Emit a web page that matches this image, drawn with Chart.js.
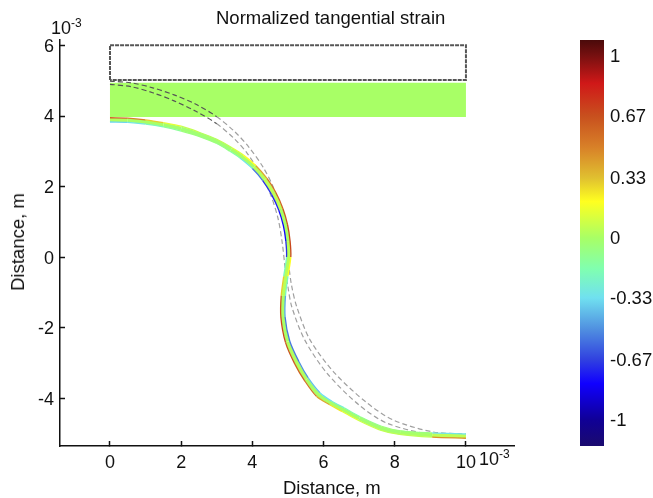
<!DOCTYPE html>
<html>
  <head>
    <script src="https://cdn.jsdelivr.net/npm/chart.js"></script>
    <style>
      body { margin: 0; background: #fff; }
      #wrap { position: relative; width: 653px; height: 498px; overflow: hidden; font-family: "Liberation Sans", sans-serif; color: #111; }
      canvas { position: absolute; top: 0; }
      .txt { position: absolute; white-space: nowrap; font-size: 18.5px; line-height: 18px; }
      .txt sup { font-size: 12px; line-height: 0; }
    </style>
  </head>
  <body>
    <div id="wrap">
      <canvas id="main-chart" width="653" height="498" style="left:0"></canvas>
      <canvas id="bar-chart" width="83" height="498" style="left:570px"></canvas>
      <div class="txt" style="left:216px;top:9px">Normalized tangential strain</div>
      <div class="txt" style="left:283px;top:479px">Distance, m</div>
      <div class="txt" style="left:18px;top:242px;transform:translate(-50%,-50%) rotate(-90deg)">Distance, m</div>
      <div class="txt" style="left:51px;top:19px;font-size:18px">10<sup>-3</sup></div>
      <div class="txt" style="left:479px;top:450px;font-size:18px">10<sup>-3</sup></div>
    </div>
    <script>
      var xTicks = [0, 2, 4, 6, 8, 10];
      var yTicks = [-4, -2, 0, 2, 4, 6];
      var barTicks = [-1, -0.67, -0.33, 0, 0.33, 0.67, 1];

      // undeformed beam outline and the filled block
      var boxX = [0, 0, 10, 10, 0];
      var boxY = [5.02, 6.01, 6.01, 5.02, 5.02];
      var bandX = [0, 10, 10, 0];
      var bandY = [4.94, 4.94, 3.97, 3.97];

      // grey dashed curves
      var upperX = [0, 0.6, 1.2, 1.8, 2.4, 3, 3.5, 3.9, 4.3, 4.6, 4.82, 4.95, 5.02, 5.1, 5.25, 5.62, 6.32, 7.2, 7.95, 9.07, 10];
      var upperY = [4.99, 4.94, 4.8, 4.6, 4.34, 3.98, 3.56, 3.12, 2.55, 1.95, 1.25, 0.5, -0.2, -0.8, -1.42, -2.35, -3.3, -4.12, -4.62, -4.96, -5.02];
      var lowerX = [0, 0.6, 1.2, 1.8, 2.4, 3, 3.5, 3.85, 4.2, 4.5, 4.72, 4.84, 4.92, 5, 5.11, 5.47, 6.1, 7, 7.8, 9.07, 10];
      var lowerY = [4.9, 4.83, 4.66, 4.43, 4.14, 3.78, 3.35, 2.95, 2.4, 1.8, 1.1, 0.4, -0.3, -0.85, -1.42, -2.35, -3.3, -4.2, -4.72, -5.05, -5.12];

      // deformed strip: centre line and its two edges, with strain at each point
      var midX = [0, 0.5, 1, 1.5, 2, 2.5, 3, 3.4, 3.7, 4.05, 4.35, 4.6, 4.8, 4.93, 5, 5.02, 4.94, 4.87, 4.86, 4.99, 5.25, 5.52, 5.85, 6.2, 6.55, 7, 7.6, 8.15, 9.05, 10];
      var midY = [3.89, 3.88, 3.83, 3.75, 3.64, 3.48, 3.28, 3.05, 2.85, 2.55, 2.2, 1.8, 1.35, 0.9, 0.45, 0, -0.55, -1.1, -1.7, -2.4, -3, -3.47, -3.9, -4.14, -4.33, -4.58, -4.85, -4.98, -5.05, -5.08];
      var midStrain = [0.02, 0, 0, -0.02, -0.03, -0.03, -0.03, 0, 0, 0.03, 0.05, 0.05, 0, 0, 0.04, 0.04, 0.04, 0, 0, 0.02, 0.02, 0, 0, 0, 0, -0.02, -0.02, 0, 0.05, 0.08];
      var edgeAX = [0, 0.5, 1, 1.5, 2, 2.5, 3, 3.43, 3.75, 4.1, 4.41, 4.66, 4.86, 4.99, 5.06, 5.08, 5, 4.93, 4.92, 5.05, 5.31, 5.57, 5.9, 6.23, 6.58, 7.03, 7.63, 8.17, 9.05, 10];
      var edgeAY = [3.95, 3.94, 3.89, 3.81, 3.71, 3.54, 3.34, 3.1, 2.89, 2.59, 2.23, 1.83, 1.37, 0.91, 0.45, 0, -0.55, -1.1, -1.7, -2.38, -2.97, -3.43, -3.85, -4.09, -4.28, -4.53, -4.8, -4.93, -4.99, -5.02];
      var edgeAStrain = [0.6, 0.5, 0.3, 0.14, 0.06, 0.03, 0.05, 0.12, 0.2, 0.4, 0.55, 0.6, 0.65, 0.7, 0.7, 0.2, -0.2, -0.45, -0.55, -0.55, -0.5, -0.4, -0.33, -0.25, -0.15, -0.08, -0.04, -0.05, -0.3, -0.5];
      var edgeBX = [0, 0.5, 1, 1.5, 2, 2.5, 3, 3.37, 3.65, 4, 4.29, 4.54, 4.74, 4.87, 4.94, 4.96, 4.88, 4.81, 4.8, 4.93, 5.19, 5.47, 5.8, 6.17, 6.52, 6.97, 7.57, 8.13, 9.05, 10];
      var edgeBY = [3.83, 3.82, 3.77, 3.69, 3.57, 3.42, 3.22, 3, 2.81, 2.51, 2.17, 1.77, 1.33, 0.89, 0.45, 0, -0.55, -1.1, -1.7, -2.42, -3.03, -3.51, -3.95, -4.19, -4.38, -4.63, -4.9, -5.03, -5.11, -5.14];
      var edgeBStrain = [-0.35, -0.3, -0.2, -0.12, -0.05, -0.05, -0.08, -0.15, -0.3, -0.55, -0.7, -0.75, -0.8, -0.8, -0.7, -0.2, 0.3, 0.65, 0.7, 0.65, 0.6, 0.55, 0.4, 0.25, 0.14, 0.08, 0.05, 0.05, 0.45, 0.75];

      // colour bar stops
      var barMin = -1.143;
      var barMax = 1.088;
      var stopValues = [-1.143, -1, -0.8, -0.67, -0.5, -0.33, -0.17, 0, 0.2, 0.33, 0.5, 0.67, 0.85, 1, 1.088];
      var stopColors = [
        [26, 10, 110], [16, 0, 150], [16, 0, 255], [48, 64, 224], [80, 144, 224], [112, 224, 240], [128, 255, 176],
        [168, 255, 102], [255, 255, 32], [224, 192, 48], [216, 128, 40], [200, 80, 30], [208, 24, 24], [120, 16, 16], [74, 10, 10]
      ];

      function toPoints(xs, ys) {
        return xs.map(function(x, i) { return { x: x, y: ys[i] }; });
      }

      function colorFor(v) {
        var i = 1;
        while (i < stopValues.length - 1 && v > stopValues[i]) i++;
        var t = (v - stopValues[i - 1]) / (stopValues[i] - stopValues[i - 1]);
        t = Math.max(0, Math.min(1, t));
        var a = stopColors[i - 1], b = stopColors[i];
        return 'rgb(' + [0, 1, 2].map(function(k) { return Math.round(a[k] + (b[k] - a[k]) * t); }).join(',') + ')';
      }

      function stripLine(xs, ys, strain, width) {
        return {
          data: toPoints(xs, ys),
          showLine: true,
          pointRadius: 0,
          tension: 0.3,
          borderWidth: width,
          borderColor: colorFor(0),
          segment: {
            borderColor: function(ctx) { return colorFor(strain[ctx.p0DataIndex]); }
          }
        };
      }

      function greyLine(xs, ys) {
        return {
          data: toPoints(xs, ys),
          showLine: true,
          pointRadius: 0,
          tension: 0.3,
          borderWidth: 1.2,
          borderDash: [5, 3],
          borderColor: '#a0a0a0',
          segment: {
            borderColor: function(ctx) { return ctx.p0.parsed.x < 2.6 ? '#555' : '#a0a0a0'; }
          }
        };
      }

      function tickScale(min, max, ticks, fit, fontSize, color) {
        return {
          type: 'linear',
          min: min,
          max: max,
          afterBuildTicks: function(scale) {
            scale.ticks = ticks.map(function(v) { return { value: v }; });
          },
          afterFit: fit,
          border: { color: color, width: 1.5 },
          grid: { drawOnChartArea: false, tickLength: -5, color: color, tickWidth: 1.5 },
          ticks: {
            color: '#111',
            font: { family: '"Liberation Sans", sans-serif', size: fontSize },
            padding: 11,
            maxRotation: 0,
            autoSkip: false,
            callback: function(v) { return String(v); }
          }
        };
      }

      var mainX = tickScale(-1.404, 11.35, xTicks, function(s) { s.height = 52; }, 18, '#111');
      var mainY = tickScale(-5.36, 6.156, yTicks, function(s) { s.width = 60; }, 18, '#111');
      mainY.ticks.labelOffset = 1.5;

      new Chart(document.getElementById('main-chart').getContext('2d'), {
        type: 'scatter',
        data: {
          datasets: [
            stripLine(edgeAX, edgeAY, edgeAStrain, 1.3),
            stripLine(edgeBX, edgeBY, edgeBStrain, 1.3),
            stripLine(midX, midY, midStrain, 4),
            greyLine(upperX, upperY),
            greyLine(lowerX, lowerY),
            {
              data: toPoints(boxX, boxY),
              showLine: true,
              pointRadius: 0,
              borderWidth: 2,
              borderDash: [4, 1],
              borderColor: '#555'
            },
            {
              data: toPoints(bandX, bandY),
              showLine: true,
              pointRadius: 0,
              borderWidth: 0,
              fill: 'shape',
              backgroundColor: '#a8ff66'
            }
          ]
        },
        options: {
          responsive: false,
          animation: false,
          layout: { padding: { top: 40, right: 139, left: 0, bottom: 0 } },
          plugins: { legend: { display: false }, tooltip: { enabled: false } },
          scales: { x: mainX, y: mainY }
        }
      });

      var barY = tickScale(barMin, barMax, barTicks, function(s) { s.width = 49; }, 18.5, 'rgba(0,0,0,0.4)');
      barY.position = 'right';
      barY.ticks.labelOffset = 1;
      barY.border.width = 0;
      barY.grid.tickWidth = 1;
      var barLeft = tickScale(barMin, barMax, barTicks, function(s) { s.width = 0; }, 18.5, 'rgba(0,0,0,0.4)');
      barLeft.position = 'left';
      barLeft.border.width = 0;
      barLeft.grid.tickWidth = 1;
      barLeft.ticks.callback = function() { return ''; };

      new Chart(document.getElementById('bar-chart').getContext('2d'), {
        type: 'bar',
        data: {
          labels: ['strain'],
          datasets: [{
            data: [[barMin, barMax]],
            barPercentage: 1,
            categoryPercentage: 1,
            backgroundColor: function(ctx) {
              var area = ctx.chart.chartArea;
              if (!area) return '#a8ff66';
              var g = ctx.chart.ctx.createLinearGradient(0, area.bottom, 0, area.top);
              stopValues.forEach(function(v, i) {
                g.addColorStop((v - barMin) / (barMax - barMin), 'rgb(' + stopColors[i].join(',') + ')');
              });
              return g;
            }
          }]
        },
        options: {
          responsive: false,
          animation: false,
          layout: { padding: { top: 40, left: 10, right: 0, bottom: 52 } },
          plugins: { legend: { display: false }, tooltip: { enabled: false } },
          scales: { x: { display: false }, y: barY, yLeft: barLeft }
        }
      });
    </script>
  </body>
</html>
